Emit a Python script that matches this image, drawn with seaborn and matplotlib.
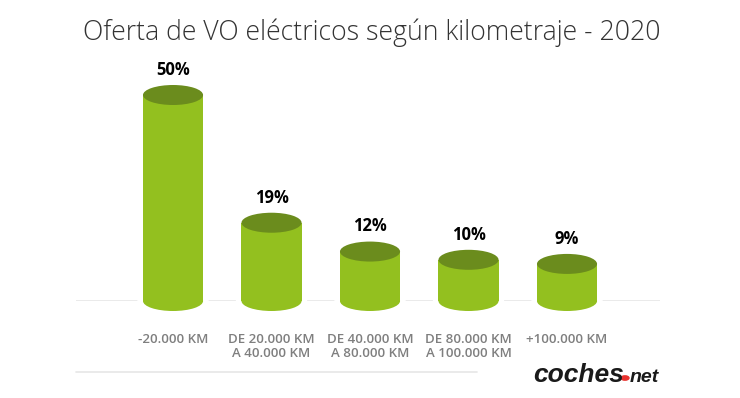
import matplotlib
matplotlib.use('Agg')
import matplotlib.pyplot as plt
from matplotlib.patches import Ellipse, Circle
from matplotlib.lines import Line2D
import seaborn as sns

# chart data
title = 'Oferta de VO eléctricos según kilometraje - 2020'
categories = ['-20.000 KM', 'DE 20.000 KM\nA 40.000 KM', 'DE 40.000 KM\nA 80.000 KM',
              'DE 80.000 KM\nA 100.000 KM', '+100.000 KM']
values = [50, 19, 12, 10, 9]
value_labels = ['50%', '19%', '12%', '10%', '9%']

BODY = '#93c01f'
TOP = '#6b8c1d'
GRID = '#e6e6e6'

sns.set_style('white')
plt.rcParams['font.family'] = ['Open Sans', 'DejaVu Sans']

W, H = 740, 398
fig = plt.figure(figsize=(W / 100, H / 100), dpi=100)
# axes: x from 76px to 660px, zero line at 301px, top at 40px
ax = fig.add_axes([76 / W, (H - 301) / H, 584 / W, 261 / H])

bar_w = 0.61
sns.barplot(x=categories, y=values, order=categories, color=BODY, saturation=1,
            width=bar_w, linewidth=0, ax=ax, zorder=3)

ax.set_xlim(-0.985, 4.944)
ax.set_ylim(0, 63.35)
ell_h = 20 / 4.12  # ellipse height in data units (~20px)

ax.axhline(0, color=GRID, lw=1.2, zorder=1)

for i, (v, lab) in enumerate(zip(values, value_labels)):
    # white halo so the baseline stops short of the cylinder
    ax.add_patch(Ellipse((i, 0), bar_w + 0.1, ell_h + 1.5, color='white', zorder=2, clip_on=False))
    ax.add_patch(Ellipse((i, 0), bar_w, ell_h, color=BODY, lw=0, zorder=3, clip_on=False))
    ax.add_patch(Ellipse((i, v), bar_w, ell_h, color=TOP, lw=0, zorder=4))
    ax.annotate(lab, (i, v), xytext=(0, 14.5), textcoords='offset points',
                ha='center', va='baseline', fontsize=12, fontweight='bold', color='black')

for s in ax.spines.values():
    s.set_visible(False)
ax.set_yticks([])
ax.set_ylabel('')
ax.set_xlabel('')
ax.tick_params(axis='x', length=0, pad=23, labelsize=9.5, labelcolor='#7f7f7f')
for t in ax.get_xticklabels():
    t.set_fontweight('semibold')
    t.set_linespacing(1.15)

fig.text(372 / W, (H - 40) / H, title, ha='center', va='baseline',
         fontsize=19.2, color='#333333', fontweight='light')

# bottom rule
fig.add_artist(Line2D([76 / W, 477 / W], [(H - 372) / H] * 2, color=GRID, lw=1.2))

# logo
logo_y = (H - 382) / H
fig.text(533 / W, logo_y, 'coches', fontsize=19, fontweight='bold', style='italic',
         family='Liberation Sans', color='#1a1a1a', va='baseline')
fig.add_artist(Circle((625 / W, (H - 378) / H), 4 / W, color='#e8322e',
                      transform=fig.transFigure))
fig.text(630 / W, logo_y, 'net', fontsize=14, fontweight='bold', style='italic',
         family='Liberation Sans', color='#1a1a1a', va='baseline')

fig.savefig('out.png', dpi=100)
